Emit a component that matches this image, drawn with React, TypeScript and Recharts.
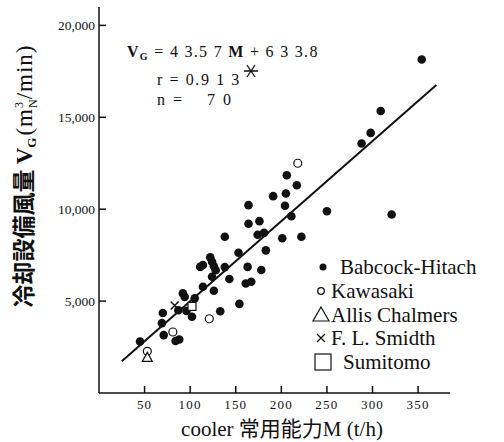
import { ScatterChart, Scatter, XAxis, YAxis, ReferenceLine, Customized } from 'recharts'

// cooler capacity M (t/h) vs. cooling air volume VG (m3N/min)
const babcock = [
  { m: 45, v: 2800 }, { m: 70, v: 4350 }, { m: 69, v: 3800 }, { m: 71, v: 3150 },
  { m: 84, v: 2830 }, { m: 88, v: 2910 }, { m: 87, v: 4500 }, { m: 92, v: 5420 },
  { m: 94, v: 5230 }, { m: 96, v: 4460 }, { m: 102, v: 4150 }, { m: 105, v: 5150 },
  { m: 114, v: 5780 }, { m: 111, v: 6860 }, { m: 114, v: 6960 }, { m: 122, v: 7380 },
  { m: 124, v: 7140 }, { m: 126, v: 6900 }, { m: 128, v: 6680 }, { m: 138, v: 6850 },
  { m: 124, v: 6320 }, { m: 126, v: 5560 }, { m: 133, v: 4450 }, { m: 138, v: 8500 },
  { m: 143, v: 6200 }, { m: 153, v: 7630 }, { m: 154, v: 4850 }, { m: 163, v: 6860 },
  { m: 161, v: 5960 }, { m: 167, v: 6050 }, { m: 164, v: 10220 }, { m: 164, v: 9210 },
  { m: 176, v: 9350 }, { m: 174, v: 8610 }, { m: 181, v: 8710 }, { m: 178, v: 6690 },
  { m: 183, v: 7760 }, { m: 191, v: 10710 }, { m: 201, v: 8420 }, { m: 205, v: 10850 },
  { m: 206, v: 11850 }, { m: 204, v: 10190 }, { m: 211, v: 9620 }, { m: 217, v: 11300 },
  { m: 222, v: 8500 }, { m: 250, v: 9890 }, { m: 288, v: 13570 }, { m: 298, v: 14150 },
  { m: 309, v: 15340 }, { m: 321, v: 9710 }, { m: 354, v: 18140 },
]
const kawasaki = [{ m: 53, v: 2270 }, { m: 81, v: 3320 }, { m: 121, v: 4040 }, { m: 218, v: 12500 }]
const allis = [{ m: 53, v: 1940 }]
const smidth = [{ m: 83, v: 4760 }]
const sumitomo = [{ m: 102, v: 4710 }]

const xTicks = [50, 100, 150, 200, 250, 300, 350]
const yTicks = [5000, 10000, 15000, 20000]
// VG = 43.57 M + 633.8, drawn between these capacities
const slope = 43.57
const intercept = 633.8
const fitRange = [25, 370]

const ink = '#111'
const serif = '"Liberation Serif", "DejaVu Serif", serif'
const cjk = '"Noto Sans CJK JP", sans-serif'

const Dot = (p: any) => <circle cx={p.cx} cy={p.cy} r={4.3} fill={ink} />
const Ring = (p: any) => <circle cx={p.cx} cy={p.cy} r={4} fill="#fff" stroke={ink} strokeWidth={1.2} />
const Tri = (p: any) => (
  <path d={`M${p.cx},${p.cy - 5} L${p.cx + 5},${p.cy + 4} L${p.cx - 5},${p.cy + 4} Z`} fill="#fff" stroke={ink} strokeWidth={1.2} />
)
const Cross = (p: any) => (
  <path d={`M${p.cx - 4},${p.cy - 4} L${p.cx + 4},${p.cy + 4} M${p.cx + 4},${p.cy - 4} L${p.cx - 4},${p.cy + 4}`} stroke={ink} strokeWidth={1.5} />
)
const Box = (p: any) => <rect x={p.cx - 4} y={p.cy - 4} width={8} height={8} fill="#fff" stroke={ink} strokeWidth={1.2} />

const XTick = ({ x, y, payload }: any) => (
  <g>
    <line x1={x} x2={x} y1={y} y2={y - 7} stroke={ink} strokeWidth={1.5} />
    <text x={x} y={y + 16} textAnchor="middle" fontFamily={serif} fontSize={13} letterSpacing={1.2} fill={ink}>
      {payload.value}
    </text>
  </g>
)

const YTick = ({ x, y, payload }: any) => (
  <g>
    <line x1={x} x2={x + 7} y1={y} y2={y} stroke={ink} strokeWidth={1.5} />
    <text x={x - 4} y={y + 5} textAnchor="end" fontFamily={serif} fontSize={13.5} fill={ink}>
      {payload.value.toLocaleString('en-US')}
    </text>
  </g>
)

const legendRows = [
  { name: 'Babcock-Hitach', y: 267 },
  { name: 'Kawasaki', y: 291 },
  { name: 'Allis Chalmers', y: 315 },
  { name: 'F. L. Smidth', y: 338 },
  { name: 'Sumitomo', y: 362 },
]

function Notes() {
  const lx = 321
  const ax = 251
  const ay = 71
  return (
    <g fill={ink}>
      <text x={127} y={57} fontFamily={serif} fontSize={16} letterSpacing={1.3}>
        <tspan fontWeight="bold">V</tspan>
        <tspan fontSize={10} dy={3} fontWeight="bold">G</tspan>
        <tspan dy={-3}> = 4 3.5 7 </tspan>
        <tspan fontWeight="bold">M</tspan>
        <tspan> + 6 3 3.8</tspan>
      </text>
      <text x={157} y={85} fontFamily={serif} fontSize={16} letterSpacing={1.6}>r = 0.9 1 3</text>
      <path
        d={`M${ax - 7},${ay} L${ax + 7},${ay} M${ax - 4},${ay - 6} L${ax + 4},${ay + 6} M${ax + 4},${ay - 6} L${ax - 4},${ay + 6}`}
        stroke={ink}
        strokeWidth={1.3}
      />
      <text x={157} y={105} fontFamily={serif} fontSize={16} letterSpacing={2}>n =</text>
      <text x={207} y={105} fontFamily={serif} fontSize={16} letterSpacing={2}>7 0</text>

      {/* legend */}
      <circle cx={lx + 2} cy={legendRows[0].y} r={3.5} />
      <circle cx={lx} cy={legendRows[1].y} r={3.3} fill="#fff" stroke={ink} strokeWidth={1.3} />
      <path d={`M${lx},${legendRows[2].y - 8} L${lx + 8},${legendRows[2].y + 6} L${lx - 8},${legendRows[2].y + 6} Z`} fill="#fff" stroke={ink} strokeWidth={1.2} />
      <path d={`M${lx - 4},${legendRows[3].y - 4} L${lx + 4},${legendRows[3].y + 4} M${lx + 4},${legendRows[3].y - 4} L${lx - 4},${legendRows[3].y + 4}`} stroke={ink} strokeWidth={1.3} />
      <rect x={lx - 6} y={legendRows[4].y - 8} width={16} height={16} fill="#fff" stroke={ink} strokeWidth={1.2} />
      {legendRows.map((r, i) => (
        <text key={r.name} x={i === 0 ? 340 : i === 4 ? 343 : 331} y={r.y + 7} fontFamily={serif} fontSize={21}>
          {r.name}
        </text>
      ))}

      {/* axis titles */}
      <text transform="translate(32,176) rotate(-90)" textAnchor="middle" fontSize={23}>
        <tspan fontFamily={cjk} fontWeight="bold">冷却設備風量 </tspan>
        <tspan fontFamily={serif} fontWeight="bold">V</tspan>
        <tspan fontFamily={serif} fontSize={13} dy={4} fontWeight="bold">G</tspan>
        <tspan fontFamily={serif} dy={-4} dx={2} letterSpacing={1}>(m</tspan>
        <tspan fontFamily={serif} fontSize={12} dy={-9}>3</tspan>
        <tspan fontFamily={serif} fontSize={12} dx={-6} dy={14}>N</tspan>
        <tspan fontFamily={serif} dy={-5} letterSpacing={1}>/min)</tspan>
      </text>
      <text x={282} y={436} textAnchor="middle" fontSize={21}>
        <tspan fontFamily={serif}>cooler </tspan>
        <tspan fontFamily={cjk}>常用能力</tspan>
        <tspan fontFamily={serif}>M (t/h)</tspan>
      </text>
    </g>
  )
}

export default function App() {
  const seg = fitRange.map((m) => ({ x: m, y: slope * m + intercept }))
  return (
    <div style={{ position: 'absolute', left: 0, top: 0, background: '#fff' }}>
      <ScatterChart width={504} height={442} margin={{ top: 7, right: 54, bottom: 0, left: 0 }}>
        <XAxis
          type="number"
          dataKey="m"
          domain={[0, 385]}
          ticks={xTicks}
          height={49}
          tickSize={0}
          tickMargin={0}
          tickLine={false}
          tick={<XTick />}
          axisLine={{ stroke: ink, strokeWidth: 1.5 }}
        />
        <YAxis
          type="number"
          dataKey="v"
          domain={[0, 21000]}
          ticks={yTicks}
          width={99}
          tickSize={0}
          tickMargin={0}
          tickLine={false}
          tick={<YTick />}
          axisLine={{ stroke: ink, strokeWidth: 1.5 }}
        />
        <ReferenceLine segment={seg} stroke={ink} strokeWidth={2} ifOverflow="visible" />
        <Scatter data={babcock} shape={Dot} isAnimationActive={false} />
        <Scatter data={kawasaki} shape={Ring} isAnimationActive={false} />
        <Scatter data={allis} shape={Tri} isAnimationActive={false} />
        <Scatter data={smidth} shape={Cross} isAnimationActive={false} />
        <Scatter data={sumitomo} shape={Box} isAnimationActive={false} />
        <Customized component={Notes} />
      </ScatterChart>
    </div>
  )
}
